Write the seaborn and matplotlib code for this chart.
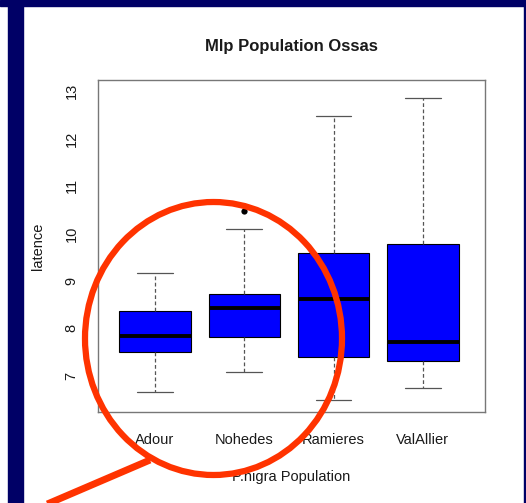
import numpy as np
import pandas as pd
import matplotlib
matplotlib.use("Agg")
import matplotlib.pyplot as plt
from matplotlib.patches import Rectangle, Ellipse
from matplotlib.lines import Line2D
import seaborn as sns

# five-number summaries
groups = ["Adour", "Nohedes", "Ramieres", "ValAllier"]
whisker_low = [6.66, 7.08, 6.50, 6.75]
q1 = [7.51, 7.82, 7.40, 7.32]
median = [7.84, 8.43, 8.62, 7.72]
q3 = [8.37, 8.73, 9.59, 9.78]
whisker_high = [9.17, 10.09, 12.47, 12.85]
outlier_group = ["Nohedes"]
outlier_value = [10.47]
yticks = [7, 8, 9, 10, 11, 12, 13]

rows = []
for i, g in enumerate(groups):
    for v in (whisker_low[i], q1[i], median[i], q3[i], whisker_high[i]):
        rows.append({"population": g, "latence": v})
df = pd.DataFrame(rows)
out = pd.DataFrame({"population": outlier_group, "latence": outlier_value})

sns.set_style("white")
plt.rcParams["font.family"] = ["Liberation Sans", "DejaVu Sans"]

W, H = 526, 503
fig = plt.figure(figsize=(W / 100, H / 100), dpi=100)
fig.patch.set_facecolor("white")

navy = "#000066"
# slide frame
fig.add_artist(Rectangle((0, 1 - 6 / H), 1, 6 / H, transform=fig.transFigure, color=navy, zorder=0))
fig.add_artist(Rectangle((8 / W, 0), 15 / W, 1, transform=fig.transFigure, color=navy, zorder=0))
fig.add_artist(Rectangle((524 / W, 0), 2 / W, 1, transform=fig.transFigure, color=navy, zorder=0))

ax = fig.add_axes([98 / W, 1 - 412 / H, 387 / W, 332 / H])
sns.boxplot(data=df, x="population", y="latence", order=groups, ax=ax,
            color="#0000FF", saturation=1, width=0.8, whis=(0, 100),
            linecolor="black", linewidth=0.8,
            medianprops={"color": "black", "linewidth": 2.8},
            whiskerprops={"color": "#555555", "linestyle": (0, (3, 2)), "linewidth": 0.9},
            capprops={"color": "#555555", "linewidth": 0.9})
sns.stripplot(data=out, x="population", y="latence", order=groups, ax=ax,
              jitter=False, color="black", size=4.5, zorder=5)

ax.set_xlim(-0.638, 3.695)
ax.set_ylim(6.24, 13.23)
ax.set_yticks(yticks)
ax.set_yticklabels([str(t) for t in yticks], rotation=90, va="center")
for s in ax.spines.values():
    s.set_color("#777777")
    s.set_linewidth(1)
ax.tick_params(axis="both", length=7, width=0.9, color="#777777",
               labelsize=10.5, labelcolor="#1a1a1a")
ax.tick_params(axis="x", pad=8)
ax.tick_params(axis="y", pad=7)

ax.set_title("Mlp Population Ossas", fontsize=12, fontweight="bold",
             color="#1a1a1a", pad=21)
ax.set_xlabel("P.nigra Population", fontsize=10.5, color="#1a1a1a")
ax.set_ylabel("latence", fontsize=10.5, color="#1a1a1a")
ax.xaxis.set_label_coords(0.5, -0.175)
ax.yaxis.set_label_coords(-0.138, 0.5)

# red annotation circle and arrow
red = "#FF3300"
fig.add_artist(Ellipse((213.5 / W, 1 - 338.5 / H), 257 / W, 273 / H,
                       transform=fig.transFigure, fill=False, edgecolor=red,
                       linewidth=4.5, zorder=10))
fig.add_artist(Line2D([150 / W, 38 / W], [1 - 460 / H, 1 - 508 / H],
                      transform=fig.transFigure, color=red, linewidth=5,
                      solid_capstyle="butt", zorder=10))

fig.savefig("out.png", dpi=100)
